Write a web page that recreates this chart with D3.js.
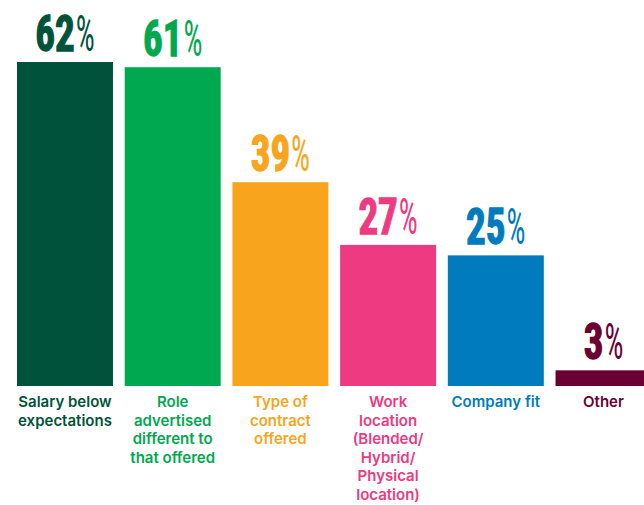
<!DOCTYPE html>
<html>
<head>
<meta charset="utf-8">
<script src="https://cdn.jsdelivr.net/npm/d3@7"></script>
<style>
  html, body { margin: 0; padding: 0; background: #ffffff; }
  svg { display: block; }
</style>
</head>
<body>
<svg id="chart" width="644" height="505"></svg>
<script>
// Reasons for declining a job offer (share of respondents, %)
const categories = ["Salary below expectations", "Role advertised different to that offered", "Type of contract offered", "Work location (Blended/Hybrid/Physical location)", "Company fit", "Other"];
const values = [62, 61, 39, 27, 25, 3];
const categoryLines = [
  ["Salary below", "expectations"],
  ["Role", "advertised", "different to", "that offered"],
  ["Type of", "contract", "offered"],
  ["Work", "location", "(Blended/", "Hybrid/", "Physical", "location)"],
  ["Company fit"],
  ["Other"]
];
const colors = ["#00533a", "#00a84f", "#f8a51d", "#ee3a80", "#007bbd", "#6b0032"];

const svg = d3.select("#chart");
const baseY = 386;

const x = d3.scaleBand()
  .domain(categories)
  .range([17, 651.5])
  .paddingInner(0.109)
  .paddingOuter(0);

const y = d3.scaleLinear()
  .domain([0, 62])
  .range([baseY, 62]);

const color = d3.scaleOrdinal().domain(categories).range(colors);

const data = categories.map((c, i) => ({ cat: c, value: values[i], lines: categoryLines[i] }));

const g = svg.append("g");

// bars
g.selectAll("rect.bar")
  .data(data)
  .join("rect")
  .attr("class", "bar")
  .attr("x", d => x(d.cat))
  .attr("y", d => y(d.value))
  .attr("width", x.bandwidth())
  .attr("height", d => y(0) - y(d.value))
  .attr("fill", d => color(d.cat));

// value labels: condensed heavy digits followed by a lighter, narrow percent sign
const numFont = "'Liberation Sans Narrow', 'Roboto Condensed', 'DejaVu Sans Condensed', 'Liberation Sans', sans-serif";
const digitScale = 0.78, pctScale = 0.6, pctGap = 1;

g.selectAll("g.value")
  .data(data)
  .join("g")
  .attr("class", "value")
  .each(function(d) {
    const lab = d3.select(this);
    const inner = lab.append("g");
    const num = inner.append("text")
      .attr("transform", `scale(${digitScale},1)`)
      .attr("fill", color(d.cat))
      .attr("stroke", color(d.cat))
      .attr("stroke-width", 1.3)
      .style("font-family", numFont)
      .style("font-weight", 700)
      .style("font-size", "50px")
      .text(d.value);
    const wNum = num.node().getComputedTextLength() * digitScale;
    const pct = inner.append("text")
      .attr("transform", `translate(${wNum + pctGap},0) scale(${pctScale},1)`)
      .attr("fill", color(d.cat))
      .style("font-family", numFont)
      .style("font-weight", 400)
      .style("font-size", "50px")
      .text("%");
    const wPct = pct.node().getComputedTextLength() * pctScale;
    const total = wNum + pctGap + wPct;
    lab.attr("transform", `translate(${x(d.cat) + x.bandwidth() / 2 - total / 2},${y(d.value) - 11})`);
  });

// category labels below bars
const cl = g.selectAll("text.cat")
  .data(data)
  .join("text")
  .attr("class", "cat")
  .attr("text-anchor", "middle")
  .attr("fill", d => color(d.cat))
  .style("font-family", "Inter, 'Noto Sans', sans-serif")
  .style("font-weight", 600)
  .style("font-size", "15px");

cl.selectAll("tspan")
  .data(d => d.lines.map(l => ({ line: l, cx: x(d.cat) + x.bandwidth() / 2 })))
  .join("tspan")
  .attr("x", d => d.cx)
  .attr("y", (d, i) => baseY + 21 + i * 18.6)
  .text(d => d.line);
</script>
</body>
</html>
